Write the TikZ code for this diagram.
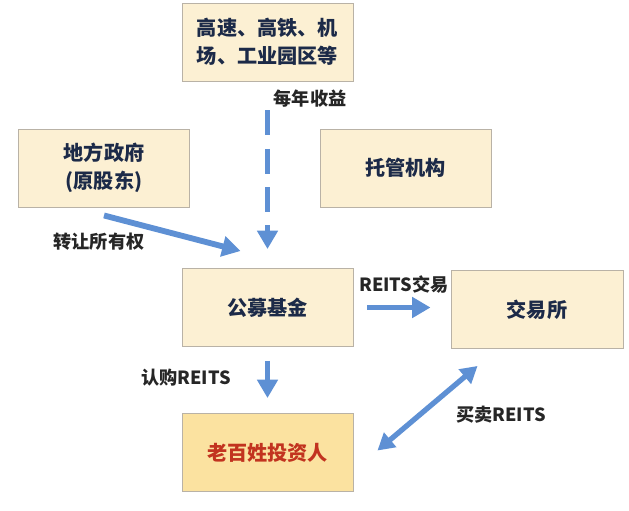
\documentclass[tikz,border=0pt]{standalone}
\usepackage{fontspec}
\setmainfont{Noto Sans CJK SC}
\usetikzlibrary{arrows.meta,calc,positioning}

\definecolor{boxfill}{HTML}{FCF0D3}
\definecolor{boxgold}{HTML}{FBE2A0}
\definecolor{boxline}{HTML}{B9B2A6}
\definecolor{navy}{HTML}{1C2A48}
\definecolor{redtext}{HTML}{C2331F}
\definecolor{arrowblue}{HTML}{5E90D4}

\tikzset{
  box/.style={draw=boxline, fill=boxfill, line width=0.8pt, minimum width=5.13cm,
    minimum height=2.34cm, align=center, text=navy,
    font=\fontsize{17.2}{23.5}\selectfont\bfseries},
  lbl/.style={text=black!85, font=\fontsize{15.5}{18}\selectfont\bfseries},
  flow/.style={draw=arrowblue, line width=5pt, -{Triangle[length=0.55cm,width=0.6cm]}},
  flowboth/.style={draw=arrowblue, line width=4.5pt,
    {Triangle[length=0.5cm,width=0.55cm]}-{Triangle[length=0.5cm,width=0.55cm]}},
}

\begin{document}
\begin{tikzpicture}[x=0.03cm, y=-0.03cm]
  \useasboundingbox (0,0) rectangle (629,510);

  % Boxes
  \node[box] (assets) at (267.5,42) {高速、高铁、机\\场、工业园区等};
  \node[box] (gov) at (104,168) {地方政府\\(原股东)};
  \node[box] (custody) at (405.5,168) {托管机构};
  \node[box] (fund) at (267.5,307.5) {公募基金};
  \node[box, minimum width=5.16cm] (exch) at (537,309.5) {交易所};
  \node[box, fill=boxgold, text=redtext] (investor) at (267.5,452.5) {老百姓投资人};

  % Flows
  \draw[flow, dash pattern=on 0.75cm off 0.4cm, shorten <=0.87cm, shorten >=0.57cm]
    (assets.south) -- (fund.north);
  \draw[flow] ($(gov.south)+(0,8)$) -- ($(fund.north west)+(59,-17)$);
  \draw[flow, shorten <=0.42cm, shorten >=0.6cm] (fund.east) -- (exch.west |- fund.east);
  \draw[flow, shorten <=0.42cm, shorten >=0.45cm] (fund.south) -- (investor.north);
  \draw[flowboth] ($(investor.east)+(24,-2)$) -- ($(exch.south west)+(27,17)$);

  % Labels
  \node[lbl] (income) at (310,99) {每年收益};
  \node[lbl] (transfer) at (99,242) {转让所有权};
  \node[lbl] (trade) at (404,285) {REITS交易};
  \node[lbl] (subscribe) at (186,378) {认购REITS};
  \node[lbl] (buysell) at (501,415) {买卖REITS};
\end{tikzpicture}
\end{document}
